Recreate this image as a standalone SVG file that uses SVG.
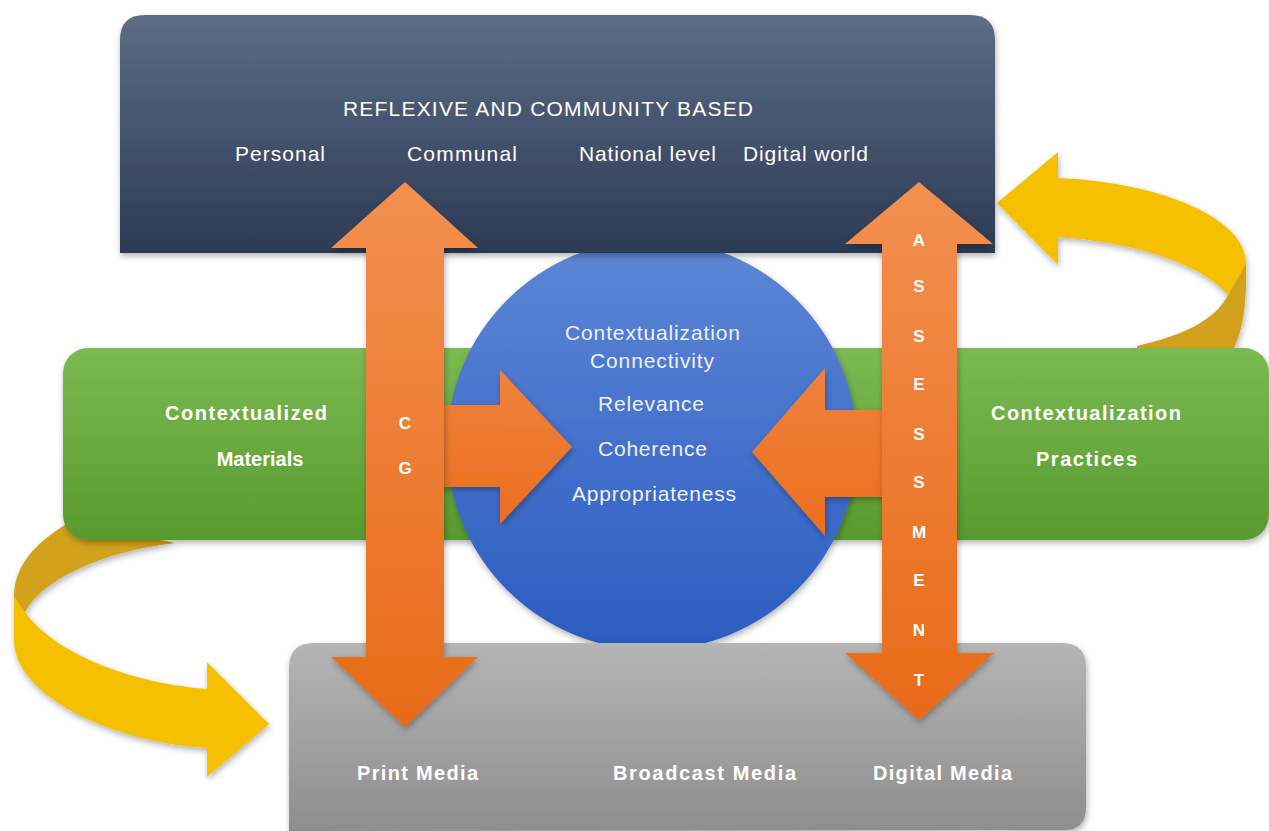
<svg xmlns="http://www.w3.org/2000/svg" width="1269" height="831" viewBox="0 0 1269 831">
<defs>
<linearGradient id="gDark" x1="0" y1="0" x2="0" y2="1"><stop offset="0" stop-color="#5d6c84"/><stop offset="1" stop-color="#2c3a55"/></linearGradient>
<linearGradient id="gGreen" x1="0" y1="0" x2="0" y2="1"><stop offset="0" stop-color="#7cba52"/><stop offset="1" stop-color="#589a2e"/></linearGradient>
<linearGradient id="gBlue" x1="0" y1="0" x2="0" y2="1"><stop offset="0" stop-color="#5e86d6"/><stop offset="1" stop-color="#2b5cc0"/></linearGradient>
<linearGradient id="gGray" x1="0" y1="0" x2="0" y2="1"><stop offset="0" stop-color="#b5b5b5"/><stop offset="1" stop-color="#8e8e8e"/></linearGradient>
<linearGradient id="gOrange" x1="0" y1="0" x2="0" y2="1"><stop offset="0" stop-color="#f39050"/><stop offset="1" stop-color="#e86a18"/></linearGradient>
<linearGradient id="gOrangeH" x1="0" y1="0" x2="0" y2="1"><stop offset="0" stop-color="#f0823c"/><stop offset="1" stop-color="#ea6e1e"/></linearGradient>
<filter id="sh" x="-10%" y="-10%" width="120%" height="125%"><feDropShadow dx="1" dy="3" stdDeviation="3" flood-color="#000" flood-opacity="0.3"/></filter>
<style>
.lt{font-family:"Liberation Sans",Arial,sans-serif;font-size:21px;fill:#ffffff;}
.bd{font-family:"Liberation Sans",Arial,sans-serif;font-size:20px;font-weight:bold;fill:#ffffff;}
.lt2{font-family:"Liberation Sans",Arial,sans-serif;font-size:21px;fill:#eef2ff;}
.let{font-family:"Liberation Sans",Arial,sans-serif;font-size:17px;font-weight:bold;fill:#ffffff;text-anchor:middle;}
.yel{fill:#f4c000;}
.yelD{fill:#d3a21c;}
.arr{fill:url(#gOrange);filter:url(#sh);}
.arrH{fill:url(#gOrangeH);filter:url(#sh);}
</style>
</defs>

<g id="cycle-arrows">
<g id="yellow-left" filter="url(#sh)">
<path class="yelD" d="M 70 522 C 30 545 14 570 14 597 L 25 612 C 42 580 100 552 175 543 Z"/>
<path class="yel" d="M 14 597 L 25 612 C 50 648 120 682 207 689 L 207 662 L 269 724 L 207 777 L 207 748 C 110 742 14 695 14 640 Z"/>
</g>
<g id="yellow-right" filter="url(#sh)">
<path class="yelD" d="M 1246 263 L 1228 295 C 1214 322 1180 336 1137 346 L 1137 352 L 1232 352 C 1244 330 1247 300 1246 263 Z"/>
<path class="yel" d="M 1058 178 C 1160 182 1246 218 1246 263 L 1228 295 C 1200 262 1130 242 1058 237 L 1058 265 L 997 203 L 1058 152 Z"/>
</g>
</g>

<g id="node-materials">
<rect x="63" y="348" width="440" height="192" rx="25" fill="url(#gGreen)" filter="url(#sh)"/>
<text class="bd" x="165" y="420" textLength="162" lengthAdjust="spacing">Contextualized</text>
<text class="bd" x="260" y="466" font-size="18" text-anchor="middle">Materials</text>
</g>

<g id="node-practices">
<rect x="800" y="348" width="469" height="192" rx="25" fill="url(#gGreen)" filter="url(#sh)"/>
<text class="bd" x="991" y="420" textLength="190" lengthAdjust="spacing">Contextualization</text>
<text class="bd" x="1036" y="466" textLength="101" lengthAdjust="spacing">Practices</text>
</g>

<g id="node-circle">
<circle cx="652" cy="445" r="205" fill="url(#gBlue)" filter="url(#sh)"/>
<text class="lt2" x="565" y="340" textLength="175" lengthAdjust="spacing">Contextualization</text>
<text class="lt2" x="590" y="368" textLength="124" lengthAdjust="spacing">Connectivity</text>
<text class="lt2" x="598" y="411" textLength="106" lengthAdjust="spacing">Relevance</text>
<text class="lt2" x="598" y="456" textLength="109" lengthAdjust="spacing">Coherence</text>
<text class="lt2" x="572" y="501" textLength="164" lengthAdjust="spacing">Appropriateness</text>
</g>

<g id="node-reflexive">
<path d="M 120 253 L 120 40 Q 120 15 145 15 L 970 15 Q 995 15 995 40 L 995 253 Z" fill="url(#gDark)" filter="url(#sh)"/>
<text class="lt" x="343" y="116" textLength="410" lengthAdjust="spacing">REFLEXIVE AND COMMUNITY BASED</text>
<text class="lt" x="235" y="161" textLength="90" lengthAdjust="spacing">Personal</text>
<text class="lt" x="407" y="161" textLength="110" lengthAdjust="spacing">Communal</text>
<text class="lt" x="579" y="161" textLength="137" lengthAdjust="spacing">National level</text>
<text class="lt" x="743" y="161" textLength="125" lengthAdjust="spacing">Digital world</text>
</g>

<g id="node-media">
<path d="M 289 831 L 289 668 Q 289 643 314 643 L 1062 643 Q 1086 643 1086 667 L 1086 808 Q 1086 830 1064 830 L 289 831 Z" fill="url(#gGray)" filter="url(#sh)"/>
<text class="bd" x="357" y="780" textLength="121" lengthAdjust="spacing">Print Media</text>
<text class="bd" x="613" y="780" textLength="183" lengthAdjust="spacing">Broadcast Media</text>
<text class="bd" x="873" y="780" textLength="139" lengthAdjust="spacing">Digital Media</text>
</g>

<g id="connectors">
<polygon id="arrow-in-left" class="arrH" points="440,405 500,405 500,370 572,447 500,524 500,487 440,487"/>
<polygon id="arrow-in-right" class="arrH" points="890,410 825,410 825,368 752,452 825,536 825,497 890,497"/>
<polygon id="arrow-cg" class="arr" points="405,182 478,248 444,248 444,657 478,657 405,727 331,657 366,657 366,248 331,248"/>
<polygon id="arrow-assessment" class="arr" points="919,182 993,244 957,244 957,653 994,653 919,720 845,653 882,653 882,244 845,244"/>
<g id="cg-label">
<text class="let" x="405" y="429">C</text>
<text class="let" x="405" y="474">G</text>
</g>
<g id="assessment-label">
<text class="let" x="919" y="246">A</text>
<text class="let" x="919" y="292">S</text>
<text class="let" x="919" y="342">S</text>
<text class="let" x="919" y="390">E</text>
<text class="let" x="919" y="440">S</text>
<text class="let" x="919" y="488">S</text>
<text class="let" x="919" y="538">M</text>
<text class="let" x="919" y="586">E</text>
<text class="let" x="919" y="636">N</text>
<text class="let" x="919" y="686">T</text>
</g>
</g>
</svg>
